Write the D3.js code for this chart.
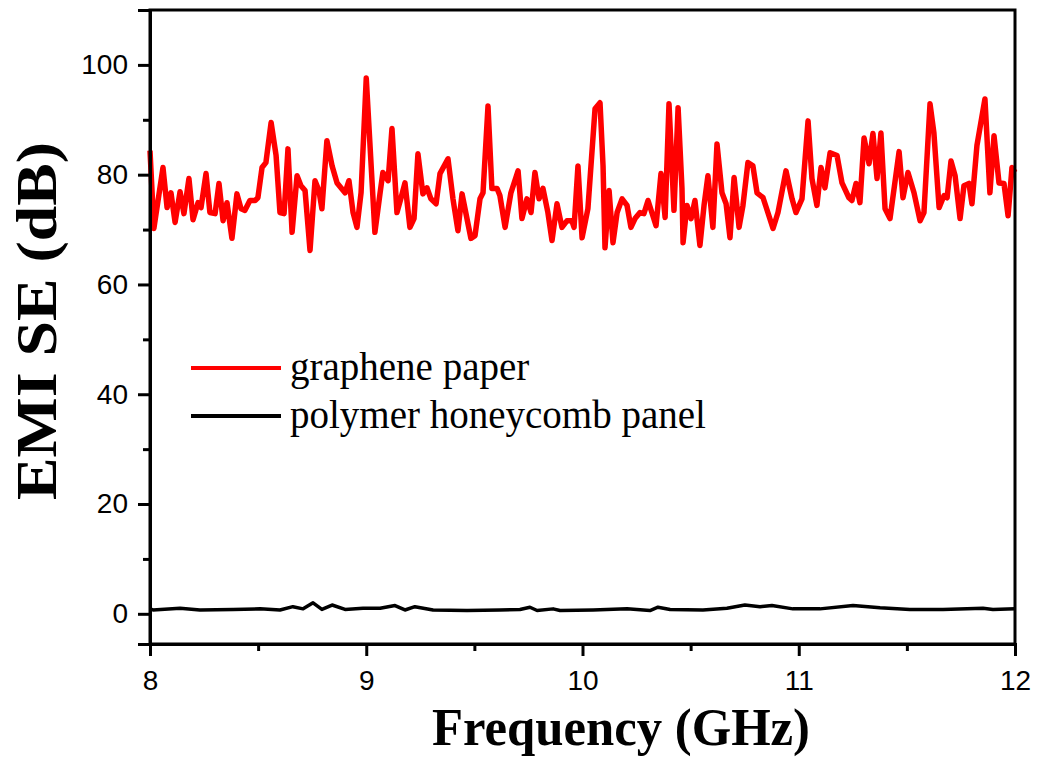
<!DOCTYPE html>
<html>
<head>
<meta charset="utf-8">
<script src="https://cdn.jsdelivr.net/npm/d3@7"></script>
<style>
  body { margin: 0; background: #fff; }
</style>
</head>
<body>
<div id="chart"></div>
<script>
const width = 1039;
const height = 760;

// graphene paper: frequency (GHz) and EMI SE (dB)
const grapheneFreq = [8.000, 8.018, 8.060, 8.079, 8.097, 8.116, 8.139, 8.157, 8.180, 8.199,
  8.222, 8.236, 8.259, 8.277, 8.301, 8.319, 8.338, 8.356, 8.379, 8.402,
  8.421, 8.439, 8.462, 8.486, 8.499, 8.518, 8.536, 8.560, 8.583, 8.601,
  8.620, 8.638, 8.657, 8.680, 8.698, 8.717, 8.740, 8.763, 8.781, 8.795,
  8.818, 8.842, 8.865, 8.902, 8.920, 8.939, 8.957, 8.976, 9.000, 9.040,
  9.064, 9.077, 9.101, 9.119, 9.142, 9.161, 9.179, 9.202, 9.221, 9.239,
  9.262, 9.281, 9.299, 9.323, 9.341, 9.378, 9.401, 9.424, 9.443, 9.484,
  9.503, 9.526, 9.540, 9.563, 9.581, 9.605, 9.618, 9.642, 9.669, 9.702,
  9.720, 9.743, 9.762, 9.780, 9.799, 9.817, 9.840, 9.859, 9.882, 9.905,
  9.928, 9.951, 9.961, 9.979, 9.998, 10.025, 10.058, 10.081, 10.095, 10.104,
  10.123, 10.141, 10.160, 10.183, 10.206, 10.224, 10.243, 10.266, 10.284, 10.303,
  10.340, 10.363, 10.382, 10.400, 10.423, 10.442, 10.460, 10.465, 10.483, 10.502,
  10.520, 10.543, 10.562, 10.580, 10.603, 10.622, 10.645, 10.664, 10.682, 10.701,
  10.724, 10.742, 10.765, 10.788, 10.807, 10.835, 10.881, 10.904, 10.941, 10.969,
  10.987, 11.015, 11.043, 11.061, 11.084, 11.103, 11.121, 11.145, 11.177, 11.200,
  11.232, 11.246, 11.265, 11.283, 11.302, 11.325, 11.343, 11.362, 11.380, 11.399,
  11.422, 11.464, 11.482, 11.505, 11.533, 11.561, 11.579, 11.607, 11.625, 11.649,
  11.672, 11.686, 11.704, 11.723, 11.746, 11.764, 11.787, 11.801, 11.824, 11.861,
  11.884, 11.903, 11.926, 11.949, 11.968, 11.986, 12.000];
const grapheneSE = [84.4, 70.2, 81.3, 74.0, 76.7, 71.3, 76.9, 72.9, 79.3, 71.8,
  74.9, 74.0, 80.2, 73.1, 72.9, 78.4, 71.6, 74.9, 68.4, 76.5,
  73.8, 73.5, 75.3, 75.3, 75.8, 81.3, 82.2, 89.5, 83.5, 73.1,
  72.9, 84.7, 69.5, 79.8, 78.0, 77.1, 66.2, 78.9, 77.1, 73.8,
  86.2, 81.6, 78.5, 76.7, 78.9, 73.1, 70.4, 76.7, 97.6, 69.5,
  76.7, 80.4, 78.9, 88.4, 73.1, 75.8, 78.5, 70.4, 72.0, 83.8,
  76.5, 77.6, 75.6, 74.7, 80.2, 82.9, 75.6, 69.8, 76.5, 68.4,
  68.9, 75.6, 76.7, 92.5, 77.5, 77.5, 76.2, 70.4, 76.7, 80.7,
  72.0, 75.6, 73.1, 80.4, 75.6, 77.5, 73.1, 68.0, 74.7, 70.4,
  71.6, 71.6, 70.4, 81.6, 68.5, 73.8, 92.0, 93.1, 81.6, 66.7,
  77.1, 67.6, 73.1, 75.6, 74.4, 70.4, 72.0, 73.1, 72.9, 75.3,
  70.7, 80.2, 72.2, 92.9, 73.5, 92.2, 77.5, 67.6, 74.4, 72.0,
  75.3, 67.1, 74.4, 79.8, 70.4, 85.6, 76.7, 74.7, 68.5, 79.5,
  70.4, 74.4, 82.2, 81.6, 76.7, 75.8, 70.2, 73.1, 80.7, 75.6,
  73.1, 75.6, 89.8, 79.3, 74.4, 81.3, 77.6, 84.0, 83.5, 78.5,
  75.8, 75.3, 78.4, 74.9, 86.7, 82.0, 87.5, 79.3, 87.6, 73.8,
  72.0, 84.2, 75.8, 80.4, 76.7, 71.6, 73.1, 92.9, 87.6, 74.0,
  76.2, 75.8, 82.5, 79.8, 72.0, 78.0, 78.4, 74.7, 85.3, 93.8,
  76.7, 87.1, 78.5, 78.4, 72.5, 81.3, 80.4];

// polymer honeycomb panel
const polymerFreq = [8.000, 8.014, 8.139, 8.231, 8.384, 8.509, 8.601, 8.661, 8.708, 8.754,
  8.795, 8.842, 8.902, 8.985, 9.064, 9.133, 9.179, 9.225, 9.309, 9.466,
  9.618, 9.711, 9.757, 9.790, 9.864, 9.896, 10.049, 10.206, 10.312, 10.349,
  10.405, 10.557, 10.668, 10.751, 10.821, 10.876, 10.973, 11.098, 11.251, 11.376,
  11.514, 11.667, 11.852, 11.898, 12.000];
const polymerSE = [0.9, 0.7, 1.0, 0.7, 0.8, 0.9, 0.7, 1.3, 0.9, 2.0,
  0.8, 1.6, 0.8, 1.0, 1.0, 1.5, 0.7, 1.3, 0.7, 0.6,
  0.7, 0.8, 1.2, 0.6, 0.9, 0.6, 0.7, 0.9, 0.6, 1.2,
  0.8, 0.7, 1.0, 1.6, 1.3, 1.5, 0.9, 0.9, 1.5, 1.1,
  0.8, 0.8, 1.0, 0.8, 0.9];

const xTicks = [8, 9, 10, 11, 12];
const xMinor = [8.5, 9.5, 10.5, 11.5];
const yTicks = [0, 20, 40, 60, 80, 100];
const yMinor = [10, 30, 50, 70, 90];

const legendLabels = ["graphene paper", "polymer honeycomb panel"];
const legendColors = ["#ff0000", "#000000"];

const margin = {top: 10, right: 24, bottom: 116, left: 150};

const x = d3.scaleLinear()
    .domain([8, 12])
    .range([margin.left, width - margin.right]);

const y = d3.scaleLinear()
    .domain([-5.5, 110])
    .range([height - margin.bottom, margin.top]);

const svg = d3.select("#chart")
    .append("svg")
    .attr("width", width)
    .attr("height", height)
    .attr("viewBox", [0, 0, width, height]);

const sans = "'Liberation Sans', Arial, sans-serif";
const serif = "'Liberation Serif', 'Times New Roman', serif";

// data lines first, frame on top
const line = d3.line()
    .x(d => x(d[0]))
    .y(d => y(d[1]));

svg.append("path")
    .datum(polymerFreq.map((f, i) => [f, polymerSE[i]]))
    .attr("fill", "none")
    .attr("stroke", "#000")
    .attr("stroke-width", 3.5)
    .attr("stroke-linejoin", "round")
    .attr("d", line);

svg.append("path")
    .datum(grapheneFreq.map((f, i) => [f, grapheneSE[i]]))
    .attr("fill", "none")
    .attr("stroke", "#ff0000")
    .attr("stroke-width", 5.5)
    .attr("stroke-linejoin", "round")
    .attr("d", line);

// frame (top and right)
svg.append("rect")
    .attr("x", x(8))
    .attr("y", y(110))
    .attr("width", x(12) - x(8))
    .attr("height", y(-5.5) - y(110))
    .attr("fill", "none")
    .attr("stroke", "#000")
    .attr("stroke-width", 3);

// x axis
svg.append("g")
    .attr("transform", `translate(0,${y(-5.5)})`)
    .call(d3.axisBottom(x).tickValues(xTicks).tickSize(12).tickPadding(14).tickFormat(d3.format("d")));

svg.append("g")
    .attr("transform", `translate(0,${y(-5.5)})`)
    .call(d3.axisBottom(x).tickValues(xMinor).tickSize(7).tickFormat(""))
    .call(g => g.select(".domain").remove());

// y axis
svg.append("g")
    .attr("transform", `translate(${x(8)},0)`)
    .call(d3.axisLeft(y).tickValues(yTicks).tickSize(12).tickPadding(10));

svg.append("g")
    .attr("transform", `translate(${x(8)},0)`)
    .call(d3.axisLeft(y).tickValues(yMinor).tickSize(7).tickFormat(""))
    .call(g => g.select(".domain").remove());

svg.selectAll(".domain").attr("stroke-width", 3);
svg.selectAll(".tick line").attr("stroke-width", 3);
svg.selectAll(".tick text")
    .attr("font-family", sans)
    .attr("font-size", 28)
    .attr("fill", "#000");

// axis titles
svg.append("text")
    .attr("x", 621)
    .attr("y", 745)
    .attr("text-anchor", "middle")
    .attr("font-family", serif)
    .attr("font-weight", "bold")
    .attr("font-size", 52)
    .attr("textLength", 378)
    .attr("lengthAdjust", "spacingAndGlyphs")
    .text("Frequency (GHz)");

svg.append("text")
    .attr("transform", "translate(56,321) rotate(-90)")
    .attr("text-anchor", "middle")
    .attr("font-family", serif)
    .attr("font-weight", "bold")
    .attr("font-size", 56)
    .attr("textLength", 358)
    .attr("lengthAdjust", "spacingAndGlyphs")
    .text("EMI SE (dB)");

// legend
const legend = svg.append("g")
    .selectAll("g")
    .data(legendLabels)
    .join("g")
    .attr("transform", (d, i) => `translate(191,${368 + i * 48})`);

legend.append("line")
    .attr("x1", 0)
    .attr("x2", 90)
    .attr("stroke", (d, i) => legendColors[i])
    .attr("stroke-width", 4);

legend.append("text")
    .attr("x", 99)
    .attr("y", 12)
    .attr("font-family", serif)
    .attr("font-size", 39)
    .text(d => d);
</script>
</body>
</html>
